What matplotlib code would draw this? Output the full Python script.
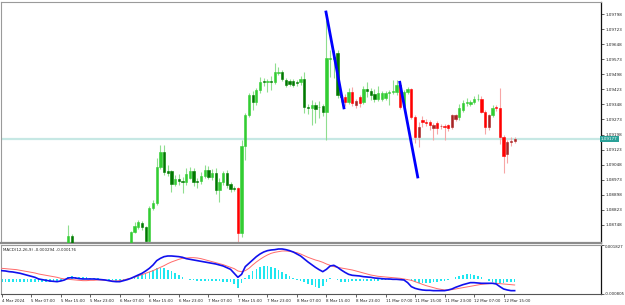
import matplotlib
matplotlib.use('Agg')
import matplotlib.pyplot as plt
import numpy as np

# ---------------- data (H1 candles, bar index 0 = 4 Mar 2024 23:00) ----------------
opens = [1.08600,1.08610,1.08595,1.08585,1.08570,1.08580,1.08565,1.08550,1.08560,1.08545,
         1.08530,1.08540,1.08550,1.08540,1.08560,1.08575,1.08590,1.08610,1.08630,1.08693,
         1.08625,1.08615,1.08620,1.08630,1.08620,1.08610,1.08615,1.08600,1.08590,1.08585,
         1.08575,1.08570,1.08580,1.08595,1.08610,1.08630,1.08713,1.08738,1.08758,1.08738,
         1.08668,1.08832,1.08857,1.09036,1.09111,1.09016,1.09016,1.08952,1.08977,1.08967,
         1.08962,1.08982,1.09016,1.08967,1.08967,1.08991,1.09021,1.08987,1.09006,1.08922,
         1.08962,1.09006,1.08952,1.08932,1.08932,1.08708,1.09141,1.09295,1.09395,1.09360,
         1.09420,1.09465,1.09460,1.09465,1.09460,1.09505,1.09510,1.09470,1.09465,1.09465,
         1.09460,1.09460,1.09475,1.09335,1.09330,1.09345,1.09335,1.09340,1.09310,1.09574,
         1.09574,1.09604,1.09395,1.09385,1.09360,1.09410,1.09345,1.09385,1.09360,1.09425,
         1.09415,1.09400,1.09375,1.09375,1.09380,1.09405,1.09410,1.09410,1.09445,1.09340,
         1.09410,1.09425,1.09285,1.09186,1.09270,1.09260,1.09260,1.09230,1.09255,1.09240,
         1.09240,1.09245,1.09235,1.09275,1.09285,1.09320,1.09355,1.09350,1.09360,1.09375,
         1.09375,1.09310,1.09236,1.09295,1.09335,1.09330,1.09186,1.09101,1.09161,1.09166]
highs = [1.08625,1.08630,1.08615,1.08600,1.08590,1.08595,1.08580,1.08570,1.08575,1.08560,
         1.08550,1.08560,1.08565,1.08570,1.08585,1.08600,1.08620,1.08640,1.08748,1.08705,
         1.08640,1.08635,1.08640,1.08645,1.08635,1.08630,1.08625,1.08615,1.08610,1.08600,
         1.08590,1.08590,1.08600,1.08620,1.08640,1.08720,1.08763,1.08772,1.08768,1.08745,
         1.08842,1.08872,1.09081,1.09146,1.09146,1.09046,1.09021,1.08997,1.09001,1.08987,
         1.09031,1.09036,1.09031,1.08982,1.09011,1.09046,1.09041,1.09026,1.09031,1.08982,
         1.09016,1.09021,1.08962,1.08942,1.08937,1.09171,1.09305,1.09405,1.09415,1.09430,
         1.09485,1.09480,1.09475,1.09490,1.09554,1.09534,1.09520,1.09480,1.09475,1.09475,
         1.09470,1.09490,1.09510,1.09350,1.09370,1.09360,1.09365,1.09350,1.09768,1.09620,
         1.09619,1.09619,1.09405,1.09400,1.09430,1.09435,1.09375,1.09395,1.09440,1.09460,
         1.09430,1.09425,1.09440,1.09415,1.09415,1.09420,1.09470,1.09470,1.09465,1.09420,
         1.09435,1.09430,1.09295,1.09260,1.09290,1.09275,1.09270,1.09255,1.09265,1.09250,
         1.09250,1.09250,1.09300,1.09300,1.09350,1.09370,1.09380,1.09370,1.09390,1.09400,
         1.09390,1.09320,1.09300,1.09345,1.09345,1.09430,1.09196,1.09171,1.09186,1.09186]
lows =  [1.08585,1.08590,1.08575,1.08560,1.08555,1.08560,1.08540,1.08535,1.08540,1.08520,
         1.08515,1.08525,1.08530,1.08530,1.08550,1.08560,1.08580,1.08600,1.08620,1.08610,
         1.08600,1.08595,1.08605,1.08610,1.08600,1.08595,1.08590,1.08580,1.08575,1.08565,
         1.08555,1.08560,1.08570,1.08585,1.08600,1.08625,1.08708,1.08730,1.08725,1.08650,
         1.08660,1.08820,1.08847,1.09026,1.08996,1.08991,1.08912,1.08942,1.08947,1.08907,
         1.08947,1.08975,1.08942,1.08932,1.08952,1.08982,1.08977,1.08972,1.08902,1.08862,
         1.08947,1.08932,1.08912,1.08917,1.08640,1.08688,1.09071,1.09285,1.09320,1.09345,
         1.09405,1.09440,1.09410,1.09420,1.09450,1.09495,1.09465,1.09435,1.09440,1.09435,
         1.09440,1.09445,1.09305,1.09300,1.09245,1.09255,1.09280,1.09290,1.09171,1.09485,
         1.09480,1.09380,1.09360,1.09340,1.09350,1.09340,1.09330,1.09335,1.09350,1.09385,
         1.09370,1.09360,1.09365,1.09365,1.09370,1.09345,1.09400,1.09395,1.09325,1.09330,
         1.09400,1.09275,1.09156,1.09136,1.09236,1.09240,1.09220,1.09171,1.09200,1.09225,
         1.09171,1.09215,1.09225,1.09265,1.09270,1.09310,1.09340,1.09340,1.09350,1.09365,
         1.09305,1.09201,1.09220,1.09285,1.09315,1.09150,1.09006,1.09056,1.09141,1.09156]
closes = [1.08610,1.08595,1.08585,1.08570,1.08580,1.08565,1.08550,1.08560,1.08545,1.08530,
          1.08540,1.08550,1.08540,1.08560,1.08575,1.08590,1.08610,1.08630,1.08693,1.08625,
          1.08615,1.08620,1.08630,1.08620,1.08610,1.08615,1.08600,1.08590,1.08585,1.08575,
          1.08570,1.08580,1.08595,1.08610,1.08630,1.08713,1.08743,1.08763,1.08738,1.08668,
          1.08832,1.08857,1.09036,1.09111,1.09011,1.09006,1.08952,1.08977,1.08967,1.08962,
          1.09001,1.09016,1.08962,1.08962,1.08991,1.09021,1.08987,1.09006,1.08922,1.08962,
          1.09006,1.08947,1.08927,1.08927,1.08708,1.09141,1.09295,1.09395,1.09360,1.09420,
          1.09460,1.09460,1.09465,1.09460,1.09510,1.09510,1.09475,1.09445,1.09450,1.09445,
          1.09455,1.09475,1.09335,1.09330,1.09345,1.09325,1.09335,1.09310,1.09579,1.09579,
          1.09584,1.09395,1.09385,1.09360,1.09410,1.09355,1.09365,1.09355,1.09425,1.09415,
          1.09395,1.09375,1.09405,1.09405,1.09405,1.09410,1.09415,1.09445,1.09335,1.09410,
          1.09425,1.09285,1.09186,1.09236,1.09260,1.09255,1.09245,1.09245,1.09230,1.09240,
          1.09235,1.09230,1.09295,1.09295,1.09330,1.09355,1.09360,1.09360,1.09375,1.09375,
          1.09310,1.09236,1.09295,1.09330,1.09330,1.09186,1.09091,1.09161,1.09166,1.09177]
# trend state of the colouring indicator (+1 up regime, -1 down regime)
trend = [1]*64 + [-1] + [1]*28 + [-1, 1, -1, -1, -1] + [1]*10 + [-1, 1, 1] + [-1]*13 + \
        [1]*6 + [-1]*3 + [1] + [-1]*6

# MACD(12,26,9) buffers, in millionths
macd_main_e6 = [449,431,395,378,342,306,252,199,145,91,2,-34,-70,-106,-124,-142,-106,-52,55,73,
                55,20,2,2,2,2,-16,-34,-52,-88,-124,-142,-142,-88,-34,37,127,216,306,431,
                574,753,986,1111,1201,1237,1237,1219,1201,1165,1094,1058,1022,986,950,915,879,843,807,753,
                700,610,521,306,91,252,664,843,1022,1201,1344,1452,1523,1559,1577,1613,1613,1577,1523,1452,
                1344,1237,1076,915,771,628,503,395,521,700,736,628,485,360,252,199,181,163,127,109,
                91,55,37,20,2,2,-16,-16,-34,-52,-195,-410,-500,-553,-589,-607,-607,-625,-625,-625,
                -625,-589,-535,-446,-374,-303,-249,-195,-195,-213,-231,-231,-231,-231,-267,-410,-535,-589,-625,-625]
macd_signal_e6 = [574,557,539,521,503,467,431,395,360,324,270,234,199,163,127,91,37,2,-16,-34,
                  -52,-70,-88,-88,-70,-70,-52,-52,-70,-88,-106,-106,-88,-52,2,37,91,163,234,306,
                  378,449,539,628,718,825,915,986,1058,1111,1129,1147,1147,1129,1094,1040,986,932,879,825,
                  771,700,628,557,431,395,449,574,753,915,1058,1183,1291,1380,1434,1470,1505,1505,1487,1452,
                  1416,1344,1255,1165,1094,1022,968,897,807,736,664,628,592,557,521,485,431,378,324,270,
                  216,181,145,127,109,91,73,55,37,2,-34,-70,-142,-213,-285,-356,-410,-464,-518,-553,
                  -589,-589,-571,-535,-500,-464,-428,-392,-356,-321,-285,-267,-249,-231,-231,-249,-267,-285,-303,-321]
macd_hist_e6 = [-161]*16 + [-90,0,107,143,125,107,90,90,72,72,36,18,0,-36,-72,-90,-90,-54,0,72,
                143,197,251,322,394,501,573,591,573,501,412,322,215,125,18,-36,-72,-90,-90,-107,
                -107,-107,-125,-125,-143,-161,-179,-269,-483,-215,54,233,412,537,627,680,680,644,591,501,
                394,286,143,54,-36,-107,-179,-251,-340,-430,-483,-394,-179,36,0,-72,-143,-143,-143,-125,
                -125,-107,-90,-90,-90,-90,-90,-72,-72,-72,-72,-54,-54,-54,-54,-107,-179,-215,-215,-215,
                -197,-179,-161,-125,-90,-54,18,107,179,233,251,269,233,179,90,0,-90,-161,-215,-215,
                -197,-179,-161,-143]
macd_label_values = [-0.000294, -0.000176]

# hand-drawn trendlines: (bar, price) endpoints
trendlines = [((87.8, 1.09815), (92.8, 1.09324)),
              ((107.8, 1.09465), (112.8, 1.08980))]

time_labels = ["4 Mar 2024", "5 Mar 07:00", "5 Mar 15:00", "5 Mar 23:00", "6 Mar 07:00",
               "6 Mar 15:00", "6 Mar 23:00", "7 Mar 07:00", "7 Mar 15:00", "7 Mar 23:00",
               "8 Mar 07:00", "8 Mar 15:00", "8 Mar 23:00", "11 Mar 07:00", "11 Mar 15:00",
               "11 Mar 23:00", "12 Mar 07:00", "12 Mar 15:00"]
label_step = 8

price_lo, price_hi = 1.08658, 1.09858
price_ticks = [1.08748 + 0.00075 * k for k in range(15)]
macd_lo, macd_hi = -0.000805, 0.001827

# ---------------- figure ----------------
W, H = 625, 305
fig = plt.figure(figsize=(W / 100, H / 100), dpi=100)
fig.patch.set_facecolor('white')

def frac(x0, y0, x1, y1):
    return [x0 / W, 1 - y1 / H, (x1 - x0) / W, (y1 - y0) / H]

ax = fig.add_axes(frac(1, 2, 601, 243))
axm = fig.add_axes(frac(1, 245, 601, 294))

o = np.array(opens); h = np.array(highs); l = np.array(lows); c = np.array(closes)
tr = np.array(trend)
x = np.arange(len(o))
bull = c >= o

body_col = np.where(tr > 0, np.where(bull, '#32cd32', '#007a00'),
                    np.where(bull, '#a82424', '#ff0000'))
wick_col = np.where(tr > 0, '#8fde8f', '#f7a6a6')

ax.vlines(x, l, h, colors=wick_col, linewidth=0.8, zorder=2)
ax.bar(x, np.abs(c - o), bottom=np.minimum(o, c), width=0.62, color=body_col,
       edgecolor=body_col, linewidth=0.4, zorder=3)

# bid line + label
last = c[-1]
ax.axhline(last, color='#c6e8e4', linewidth=1.6, zorder=1)
ax.text(1.0, last, f"{last:.5f}", transform=ax.get_yaxis_transform(), ha='left', va='center',
        fontsize=3.0, color='white', clip_on=False, zorder=10,
        bbox=dict(boxstyle='square,pad=0.3', facecolor='#2aa198', edgecolor='none'))

for (x0, y0), (x1, y1) in trendlines:
    ax.plot([x0, x1], [y0, y1], color='#0000ff', linewidth=2.0, solid_capstyle='butt', zorder=5)

ax.set_xlim(-0.2, 162.4)
ax.set_ylim(price_lo, price_hi)
ax.yaxis.tick_right()
ax.set_yticks(price_ticks)
ax.set_yticklabels([f"{v:.5f}" for v in price_ticks])
ax.tick_params(axis='y', labelsize=3.0, length=2, width=0.5, pad=1.0, colors='#222222')
ax.set_xticks([])
for s in ['left', 'top']:
    ax.spines[s].set_color('#9a9a9a'); ax.spines[s].set_linewidth(0.8)
ax.spines['bottom'].set_color('#8c8c8c'); ax.spines['bottom'].set_linewidth(1.6)
ax.spines['right'].set_color('#111111'); ax.spines['right'].set_linewidth(0.9)

# MACD panel
hist = np.array(macd_hist_e6) * 1e-6
main = np.array(macd_main_e6) * 1e-6
sig = np.array(macd_signal_e6) * 1e-6
axm.bar(x, hist, width=0.45, color='#1ee6f0', zorder=2)
axm.plot(x, sig, color='#ff6a6a', linewidth=0.7, zorder=3)
axm.plot(x, main, color='#1010ee', linewidth=1.2, zorder=4)
axm.set_xlim(-0.2, 162.4)
axm.set_ylim(macd_lo, macd_hi)
axm.yaxis.tick_right()
axm.set_yticks([macd_hi, macd_lo])
axm.set_yticklabels([f"{macd_hi:.6f}", f"{macd_lo:.6f}"])
axm.tick_params(axis='y', labelsize=2.8, length=2, width=0.5, pad=0.8, colors='#222222')
tl = axm.get_yticklabels()
tl[0].set_va('top'); tl[1].set_va('center')
tick_pos = [k * label_step for k in range(len(time_labels))]
axm.set_xticks(tick_pos)
axm.set_xticklabels(time_labels, ha='left')
axm.tick_params(axis='x', labelsize=2.9, length=2.5, width=0.5, pad=1.0, colors='#222222')
for s in ['left', 'top']:
    axm.spines[s].set_color('#9a9a9a'); axm.spines[s].set_linewidth(0.8)
axm.spines['bottom'].set_color('#555555'); axm.spines['bottom'].set_linewidth(0.8)
axm.spines['right'].set_color('#111111'); axm.spines['right'].set_linewidth(0.9)
axm.text(0.004, 0.93, "MACD(12,26,9) " + " ".join(f"{v:.6f}" for v in macd_label_values),
         transform=axm.transAxes, fontsize=2.9, ha='left', va='top', color='#222222')

fig.savefig('out.png', dpi=100, facecolor='white')
